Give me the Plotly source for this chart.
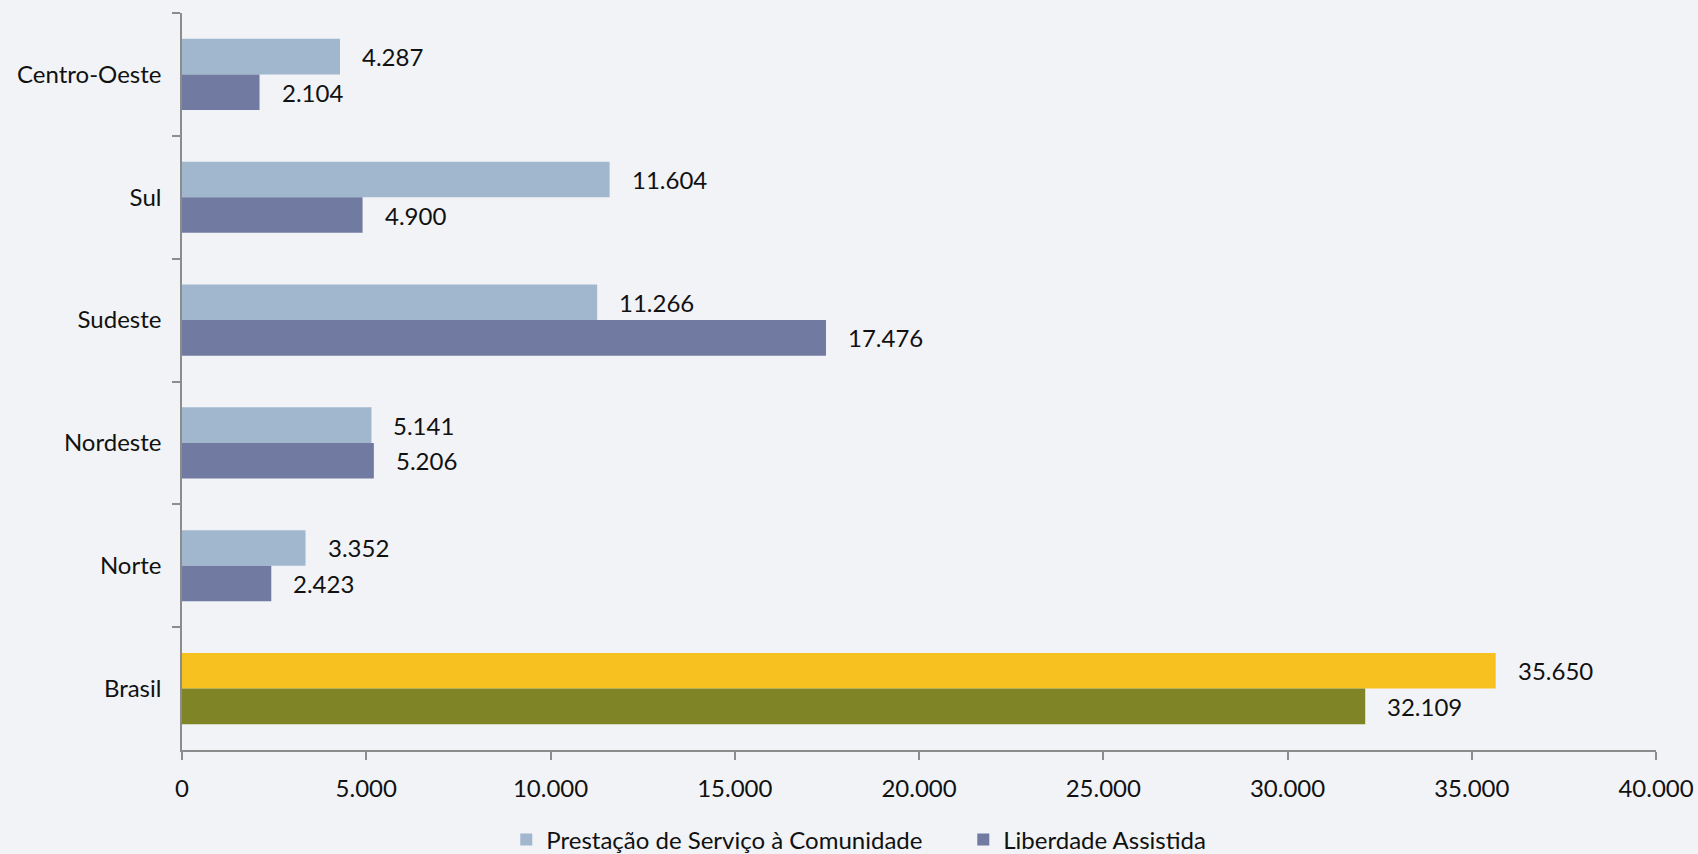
import plotly.graph_objects as go

categories = ["Centro-Oeste", "Sul", "Sudeste", "Nordeste", "Norte", "Brasil"]
psc_values = [4287, 11604, 11266, 5141, 3352, 35650]
la_values = [2104, 4900, 17476, 5206, 2423, 32109]
psc_name = "Prestação de Serviço à Comunidade"
la_name = "Liberdade Assistida"
x_ticks = [0, 5000, 10000, 15000, 20000, 25000, 30000, 35000, 40000]

def fmt(v):
    return f"{v:,}".replace(",", ".")

psc_colors = ["#A1B7CE"] * 5 + ["#F7C220"]
la_colors = ["#717BA2"] * 5 + ["#7F8527"]

FONT = "Lato"
FS = 24
fig = go.Figure()
fig.add_trace(go.Bar(y=categories, x=psc_values, orientation="h", name=psc_name,
                     marker=dict(color=psc_colors, line=dict(width=0))))
fig.add_trace(go.Bar(y=categories, x=la_values, orientation="h", name=la_name,
                     marker=dict(color=la_colors, line=dict(width=0))))

half = 17.8
for c, v in zip(categories, psc_values):
    fig.add_annotation(x=v, y=c, text=fmt(v), showarrow=False, xanchor="left",
                       xshift=20, yshift=half, font=dict(size=FS, color="#111111", family=FONT))
for c, v in zip(categories, la_values):
    fig.add_annotation(x=v, y=c, text=fmt(v), showarrow=False, xanchor="left",
                       xshift=20, yshift=-half, font=dict(size=FS, color="#111111", family=FONT))

fig.update_layout(
    width=1698, height=854,
    margin=dict(l=182, r=42, t=13, b=104, autoexpand=False),
    paper_bgcolor="#F2F3F6", plot_bgcolor="#F2F3F6",
    barmode="group", bargap=0.42, bargroupgap=0,
    font=dict(family=FONT, size=FS, color="#111111"),
    showlegend=True,
    legend=dict(orientation="h", x=0.22, xanchor="left", y=-0.122, yanchor="middle",
                font=dict(size=FS, family=FONT), itemwidth=30, entrywidth=412,
                tracegroupgap=0, itemclick=False, bgcolor="rgba(0,0,0,0)"),
    xaxis=dict(range=[0, 40000], tickvals=x_ticks, ticktext=[fmt(t) for t in x_ticks],
               automargin=False,
               showgrid=False, zeroline=False, showline=True, linecolor="#8C8C8C", linewidth=1.5,
               ticks="outside", ticklen=8, tickcolor="#8C8C8C", tickwidth=1.5,
               ticklabelstandoff=8, tickfont=dict(size=FS, family=FONT)),
    yaxis=dict(categoryorder="array", categoryarray=categories, autorange="reversed",
               automargin=False,
               showgrid=False, zeroline=False, showline=True, linecolor="#8C8C8C", linewidth=1.5,
               ticks="outside", ticklen=8, tickcolor="#8C8C8C", tickwidth=1.5,
               tickson="boundaries", ticklabelstandoff=14, tickfont=dict(size=FS, family=FONT)),
)

fig.write_html("out.html", config={"displayModeBar": False},
               post_script="document.body.style.margin='0';document.body.style.overflow='hidden';")
